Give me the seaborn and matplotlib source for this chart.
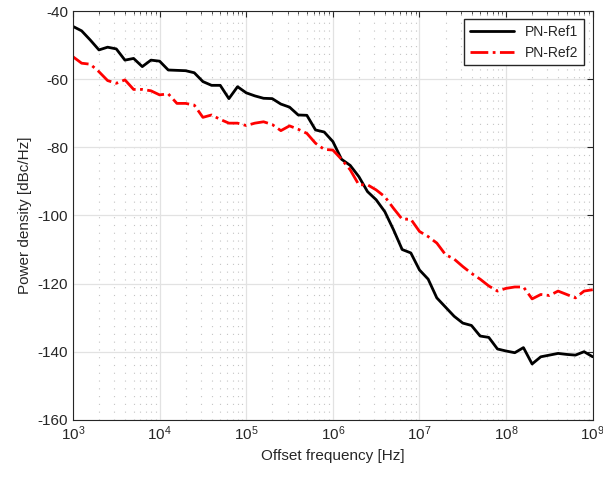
import numpy as np
import pandas as pd
import matplotlib
matplotlib.use("Agg")
import matplotlib.pyplot as plt
from matplotlib.ticker import LogLocator, NullLocator, FixedLocator
import seaborn as sns

# offset frequency exponents (10 points per decade)
freq_exp = [3.0, 3.1, 3.2, 3.3, 3.4, 3.5, 3.6, 3.7, 3.8, 3.9,
            4.0, 4.1, 4.2, 4.3, 4.4, 4.5, 4.6, 4.7, 4.8, 4.9,
            5.0, 5.1, 5.2, 5.3, 5.4, 5.5, 5.6, 5.7, 5.8, 5.9,
            6.0, 6.1, 6.2, 6.3, 6.4, 6.5, 6.6, 6.7, 6.8, 6.9,
            7.0, 7.1, 7.2, 7.3, 7.4, 7.5, 7.6, 7.7, 7.8, 7.9,
            8.0, 8.1, 8.2, 8.3, 8.4, 8.5, 8.6, 8.7, 8.8, 8.9,
            9.0]

pn_ref1 = [-44.5, -45.8, -48.5, -51.4, -50.6, -51.1, -54.4, -53.9, -56.3, -54.4,
           -54.7, -57.3, -57.4, -57.5, -58.1, -60.7, -61.8, -61.8, -65.7, -62.2,
           -64.0, -64.9, -65.6, -65.7, -67.3, -68.2, -70.5, -70.6, -74.9, -75.5,
           -78.3, -83.5, -85.3, -88.6, -93.0, -95.4, -98.9, -104.2, -110.0, -111.0,
           -116.0, -118.7, -124.2, -126.9, -129.6, -131.6, -132.3, -135.4, -135.8, -139.2,
           -139.8, -140.3, -138.8, -143.6, -141.5, -141.0, -140.5, -140.8, -141.0, -140.0,
           -141.5]

pn_ref2 = [-53.4, -55.3, -55.6, -57.8, -60.4, -61.2, -60.2, -63.0, -63.0, -63.4,
           -64.6, -64.3, -67.1, -67.1, -67.6, -71.2, -70.5, -71.8, -72.9, -72.9,
           -73.6, -72.9, -72.5, -73.3, -75.1, -73.7, -74.7, -75.9, -78.8, -80.6,
           -80.8, -83.5, -86.6, -91.0, -91.0, -92.5, -94.5, -97.9, -101.1, -101.1,
           -104.7, -106.2, -108.1, -111.5, -112.8, -115.0, -117.0, -118.7, -120.7, -122.2,
           -121.4, -121.0, -121.0, -124.5, -123.2, -123.5, -122.2, -123.2, -124.2, -122.2,
           -121.8]

freq = 10 ** np.array(freq_exp)
df = pd.DataFrame({"freq": freq, "PN-Ref1": pn_ref1, "PN-Ref2": pn_ref2})

sns.set_style("white")
plt.rcParams["font.family"] = ["Liberation Sans", "DejaVu Sans"]
plt.rcParams["mathtext.fontset"] = "custom"
plt.rcParams["mathtext.rm"] = "Liberation Sans"
plt.rcParams["axes.unicode_minus"] = False

fig, ax = plt.subplots(figsize=(6.03, 4.82), dpi=100)
fig.subplots_adjust(left=0.121, right=0.983, bottom=0.129, top=0.977)

sns.lineplot(data=df, x="freq", y="PN-Ref1", ax=ax, color="black",
             linewidth=2, label="PN-Ref1")
sns.lineplot(data=df, x="freq", y="PN-Ref2", ax=ax, color="red",
             linewidth=2, linestyle="-.", label="PN-Ref2")

ax.set_xscale("log")
ax.set_xlim(1e3, 1e9)
ax.set_ylim(-160, -40)
ax.xaxis.set_major_locator(LogLocator(base=10, numticks=10))
ax.xaxis.set_minor_locator(LogLocator(base=10, subs=np.arange(2, 10), numticks=100))
ax.yaxis.set_major_locator(FixedLocator(np.arange(-160, -39, 20)))
ax.yaxis.set_minor_locator(NullLocator())

ax.grid(which="major", color="#e2e2e2", linewidth=0.9, linestyle="-")
ax.grid(which="minor", axis="x", color="#c4c4c4", linewidth=0.8,
        linestyle=(0, (1, 6)))
ax.set_axisbelow(True)

ax.tick_params(which="both", direction="in", top=True, right=True,
               colors="#262626", labelsize=11)
ax.tick_params(which="major", length=4)
ax.tick_params(which="minor", length=2.5)
for s in ax.spines.values():
    s.set_color("#262626")
    s.set_linewidth(0.8)

ax.set_xlabel("Offset frequency [Hz]", fontsize=11, color="#262626")
ax.set_ylabel("Power density [dBc/Hz]", fontsize=11, color="#262626")

ax.legend(loc="upper right", fancybox=False, framealpha=1, edgecolor="#262626",
          fontsize=10, handlelength=3.2, borderaxespad=0.6)

fig.savefig("out.png", dpi=100)
